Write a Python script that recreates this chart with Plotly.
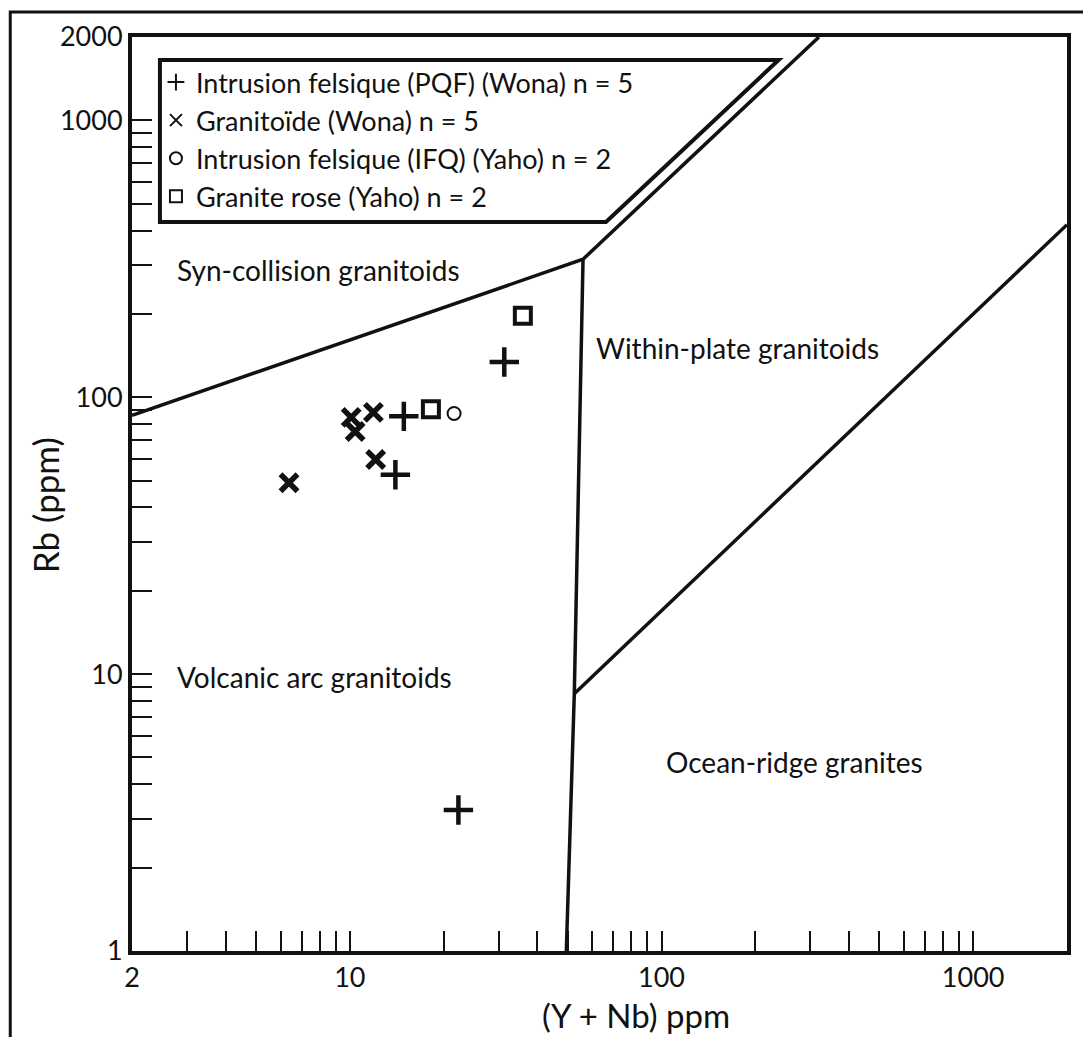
import plotly.graph_objects as go

# ---------------- data ----------------
pqf_x = [31.3, 14.9, 14.0, 22.3]
pqf_y = [134, 85.3, 52.5, 3.23]

gra_x = [10.1, 11.9, 10.4, 12.1, 6.38]
gra_y = [84.6, 88.2, 75.2, 59.6, 49.1]

ifq_x = [21.6]
ifq_y = [87.4]

rose_x = [35.9, 18.2]
rose_y = [197, 90.4]

# discrimination boundaries (Pearce et al. 1984)
syn_x = [2, 56, 320]
syn_y = [86, 315, 2000]
vag_x = [56, 52.5, 49.5]
vag_y = [315, 8.5, 1]
wpg_x = [52.5, 2000]
wpg_y = [8.5, 420]

x_tickvals = [2, 3, 4, 5, 6, 7, 8, 9, 10, 20, 30, 40, 50, 60, 70, 80, 90, 100,
              200, 300, 400, 500, 600, 700, 800, 900, 1000, 2000]
x_labels = {2: "2", 10: "10", 100: "100", 1000: "1000"}
y_tickvals = [1, 2, 3, 4, 5, 6, 7, 8, 9, 10, 20, 30, 40, 50, 60, 70, 80, 90, 100,
              200, 300, 400, 500, 600, 700, 800, 900, 1000, 2000]
y_labels = {1: "1", 10: "10", 100: "100", 1000: "1000", 2000: "2000"}

legend_names = ["Intrusion felsique (PQF) (Wona) n = 5",
                "Granitoïde (Wona) n = 5",
                "Intrusion felsique (IFQ) (Yaho) n = 2",
                "Granite rose (Yaho) n = 2"]

region_labels = ["Syn-collision granitoids", "Within-plate granitoids",
                 "Volcanic arc granitoids", "Ocean-ridge granites"]

x_title = "(Y + Nb) ppm"
y_title = "Rb (ppm)"

# ---------------- layout geometry ----------------
W, H = 1083, 1037
L, R, T, B = 132, 1069, 37, 951
FONT = "Lato, 'Open Sans', sans-serif"
INK = "#111111"


def px(x):
    return (x - L) / (R - L)


def py(y):
    return (B - y) / (B - T)


fig = go.Figure()

for bx, by in [(syn_x, syn_y), (vag_x, vag_y), (wpg_x, wpg_y)]:
    fig.add_trace(go.Scatter(x=bx, y=by, mode="lines", showlegend=False,
                             hoverinfo="skip",
                             line=dict(color=INK, width=3.5)))

fig.add_trace(go.Scatter(x=pqf_x, y=pqf_y, mode="markers", name=legend_names[0],
                         legendgroup="a",
                         marker=dict(symbol="cross-thin", size=21, color=INK,
                                     line=dict(color=INK, width=4.5))))
fig.add_trace(go.Scatter(x=gra_x, y=gra_y, mode="markers", name=legend_names[1],
                         legendgroup="b",
                         marker=dict(symbol="x-thin", size=17, color=INK,
                                     line=dict(color=INK, width=5.5))))
fig.add_trace(go.Scatter(x=ifq_x, y=ifq_y, mode="markers", name=legend_names[2],
                         legendgroup="c",
                         marker=dict(symbol="circle-open", size=13, color=INK,
                                     line=dict(color=INK, width=2))))
fig.add_trace(go.Scatter(x=rose_x, y=rose_y, mode="markers", name=legend_names[3],
                         legendgroup="d",
                         marker=dict(symbol="square-open", size=16, color=INK,
                                     line=dict(color=INK, width=4))))

axis_common = dict(type="log", showgrid=False, zeroline=False, showline=True,
                   linecolor=INK, linewidth=4, mirror=True, ticks="inside",
                   ticklen=20, tickwidth=1.5, tickcolor=INK,
                   tickfont=dict(family=FONT, size=27, color=INK))

fig.update_xaxes(range=[0.30103, 3.30103], tickmode="array",
                 tickvals=x_tickvals,
                 ticktext=[x_labels.get(v, "") for v in x_tickvals],
                 **axis_common)
fig.update_yaxes(range=[0, 3.30103], tickmode="array",
                 tickvals=y_tickvals,
                 ticktext=[y_labels.get(v, "") for v in y_tickvals],
                 **axis_common)

shapes = [
    # legend box (trapezoid)
    dict(type="path", xref="paper", yref="paper",
         path=f"M {px(160)},{py(60)} L {px(780)},{py(60)} L {px(607)},{py(222)} "
              f"L {px(160)},{py(222)} Z",
         line=dict(color=INK, width=4)),
    # outer frame
    dict(type="path", xref="paper", yref="paper",
         path=f"M {px(10)},{py(1045)} L {px(10)},{py(12)} L {px(1095)},{py(12)}",
         line=dict(color=INK, width=3)),
]

annotations = []
label_pos = [(175, 270), (595, 348), (175, 677), (665, 762)]
for txt, (x0, y0) in zip(region_labels, label_pos):
    annotations.append(dict(text=txt, x=px(x0), y=py(y0), xref="paper",
                            yref="paper", xanchor="left", yanchor="middle",
                            showarrow=False,
                            font=dict(family=FONT, size=28, color=INK)))
annotations.append(dict(text=x_title, x=px(637), y=py(1015), xref="paper",
                        yref="paper", xanchor="center", yanchor="middle",
                        showarrow=False,
                        font=dict(family=FONT, size=33, color=INK)))
annotations.append(dict(text=y_title, x=px(45), y=py(505), xref="paper",
                        yref="paper", xanchor="center", yanchor="middle",
                        textangle=-90, showarrow=False,
                        font=dict(family=FONT, size=35, color=INK)))

fig.update_layout(
    width=W, height=H,
    margin=dict(l=L, r=W - R, t=T, b=H - B),
    paper_bgcolor="white", plot_bgcolor="white",
    shapes=shapes, annotations=annotations,
    showlegend=True,
    legend=dict(x=px(156), y=py(58), xanchor="left", yanchor="top",
                bgcolor="rgba(0,0,0,0)", borderwidth=0,
                itemsizing="constant", traceorder="grouped",
                tracegroupgap=0,
                font=dict(family=FONT, size=27, color=INK)),
)

fig.write_html("out.html",
               config={"displayModeBar": False},
               post_script="document.body.style.margin='0px';"
                           "document.body.style.overflow='hidden';")
